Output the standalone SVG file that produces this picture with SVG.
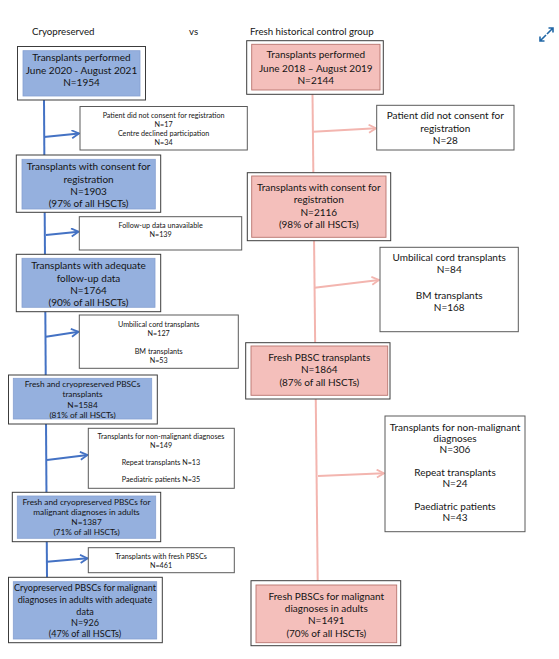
<svg xmlns="http://www.w3.org/2000/svg" width="559" height="659" viewBox="0 0 559 659">
<defs>
<style>
text{font-family:Lato,"Liberation Sans",sans-serif;fill:#141414;text-anchor:middle;dominant-baseline:central}
.hdr{font-size:9.7px;text-anchor:start}
.t10{font-size:10px}
.t9{font-size:9.1px}
.t8{font-size:8.3px}
.t7{font-size:7.2px}
.outer{fill:#fff;stroke:#3c3c3c;stroke-width:1}
.side{fill:#fff;stroke:#5a5a5a;stroke-width:1}
.blue{fill:#95B0DE;stroke:#86A1D2;stroke-width:0.8}
.pink{fill:#F4BFBB;stroke:#B8746F;stroke-width:0.9}
.bl{fill:none;stroke:#4472C4;stroke-width:2}
.pl{fill:none;stroke:#F3B5AF;stroke-width:2}
</style>
<marker id="ab" markerWidth="10" markerHeight="10" refX="8" refY="4.5" orient="auto" markerUnits="userSpaceOnUse"><path d="M0.8,0.5 L8,4.5 L0.8,8.5" fill="none" stroke="#4472C4" stroke-width="1.8"/></marker>
<marker id="ap" markerWidth="10" markerHeight="10" refX="8" refY="4.5" orient="auto" markerUnits="userSpaceOnUse"><path d="M0.8,0.5 L8,4.5 L0.8,8.5" fill="none" stroke="#F3B5AF" stroke-width="1.8"/></marker>
</defs>
<rect width="559" height="659" fill="#fff"/>

<g id="headers">
<text class="hdr" x="32" y="31">Cryopreserved</text>
<text class="hdr" x="189" y="31">vs</text>
<text class="hdr" x="250" y="31">Fresh historical control group</text>
<path d="M547,34 L553,28 M548.5,28 L553,28 L553,32.5 M546,35 L540,41 M540,36.5 L540,41 L544.5,41" fill="none" stroke="#2167A6" stroke-width="1.6"/>
</g>

<g id="connectors">
<path class="bl" d="M44,100 L47,578"/>
<path class="bl" d="M44,137 L79,133.5" marker-end="url(#ab)"/>
<path class="bl" d="M46,235 L78.5,231.7" marker-end="url(#ab)"/>
<path class="bl" d="M46,336.7 L78.5,331.7" marker-end="url(#ab)"/>
<path class="bl" d="M47,460 L87.5,455" marker-end="url(#ab)"/>
<path class="bl" d="M47,561.7 L87.5,558.3" marker-end="url(#ab)"/>
<path class="pl" d="M312.5,94 L317.7,581"/>
<path class="pl" d="M313,131.7 L376,128.3" marker-end="url(#ap)"/>
<path class="pl" d="M314.5,287.7 L379,280" marker-end="url(#ap)"/>
<path class="pl" d="M318,476 L384,473.3" marker-end="url(#ap)"/>
</g>

<g id="c1">
<rect class="outer" x="17.5" y="46.5" width="128" height="53.5"/>
<rect class="blue" x="23" y="50.7" width="117" height="45.3"/>
<text class="t10" x="81.5" y="57.3">Transplants performed</text>
<text class="t10" x="81.5" y="70">June 2020 - August 2021</text>
<text class="t10" x="81.5" y="82.3">N=1954</text>
</g>
<g id="cs1">
<rect class="side" x="80" y="106.5" width="167.3" height="43.5"/>
<text class="t7" x="163.6" y="115.3">Patient did not consent for registration</text>
<text class="t7" x="163.6" y="124.3">N=17</text>
<text class="t7" x="163.6" y="133.3">Centre declined participation</text>
<text class="t7" x="163.6" y="142.3">N=34</text>
</g>
<g id="c2">
<rect class="outer" x="16.3" y="155" width="144.4" height="57.3"/>
<rect class="blue" x="22" y="159.3" width="133.3" height="49.7"/>
<text class="t10" x="88.6" y="166">Transplants with consent for</text>
<text class="t10" x="88.6" y="178.7">registration</text>
<text class="t10" x="88.6" y="191.4">N=1903</text>
<text class="t10" x="88.6" y="203.3">(97% of all HSCTs)</text>
</g>
<g id="cs2">
<rect class="side" x="79.3" y="216.7" width="162.4" height="33.3"/>
<text class="t7" x="160.6" y="225.7">Follow-up data unavailable</text>
<text class="t7" x="160.6" y="234.3">N=139</text>
</g>
<g id="c3">
<rect class="outer" x="16.3" y="254.3" width="144.4" height="57.4"/>
<rect class="blue" x="22" y="258.3" width="133" height="49"/>
<text class="t10" x="88.5" y="265">Transplants with adequate</text>
<text class="t10" x="88.5" y="277.7">follow-up data</text>
<text class="t10" x="88.5" y="290">N=1764</text>
<text class="t10" x="88.5" y="302.3">(90% of all HSCTs)</text>
</g>
<g id="cs3">
<rect class="side" x="79.3" y="315" width="159" height="53.3"/>
<text class="t7" x="158.7" y="324">Umbilical cord transplants</text>
<text class="t7" x="158.7" y="333">N=127</text>
<text class="t7" x="158.7" y="351.7">BM transplants</text>
<text class="t7" x="158.7" y="360.3">N=53</text>
</g>
<g id="c4">
<rect class="outer" x="8.5" y="375" width="148.8" height="49"/>
<rect class="blue" x="13.3" y="378.3" width="138.4" height="40.7"/>
<text class="t8" x="82.5" y="384.2">Fresh and cryopreserved PBSCs</text>
<text class="t8" x="82.5" y="394.4">transplants</text>
<text class="t8" x="82.5" y="404.5">N=1584</text>
<text class="t8" x="82.5" y="415">(81% of all HSCTs)</text>
</g>
<g id="cs4">
<rect class="side" x="88.3" y="428.3" width="146" height="60"/>
<text class="t7" x="161" y="436.7">Transplants for non-malignant diagnoses</text>
<text class="t7" x="161" y="445.7">N=149</text>
<text class="t7" x="161" y="462.3">Repeat transplants N=13</text>
<text class="t7" x="161" y="479">Paediatric patients N=35</text>
</g>
<g id="c5">
<rect class="outer" x="12.3" y="492.3" width="148.4" height="49.4"/>
<rect class="blue" x="17.3" y="496" width="138.4" height="42.3"/>
<text class="t8" x="86.5" y="501.7">Fresh and cryopreserved PBSCs for</text>
<text class="t8" x="86.5" y="512.3">malignant diagnoses in adults</text>
<text class="t8" x="86.5" y="522.3">N=1387</text>
<text class="t8" x="86.5" y="532.3">(71% of all HSCTs)</text>
</g>
<g id="cs5">
<rect class="side" x="88.3" y="547.7" width="146" height="25"/>
<text class="t7" x="161" y="556.7">Transplants with fresh PBSCs</text>
<text class="t7" x="161" y="565.7">N=461</text>
</g>
<g id="c6">
<rect class="outer" x="8.5" y="577.3" width="153.8" height="65.4"/>
<rect class="blue" x="13.3" y="581.7" width="143.4" height="57.3"/>
<text class="t9" x="85" y="587.7">Cryopreserved PBSCs for malignant</text>
<text class="t9" x="85" y="599.3">diagnoses in adults with adequate</text>
<text class="t9" x="85" y="611">data</text>
<text class="t9" x="85" y="622.3">N=926</text>
<text class="t9" x="85" y="633.3">(47% of all HSCTs)</text>
</g>

<g id="f1">
<rect class="outer" x="246.7" y="40.7" width="136.6" height="53.6"/>
<rect class="pink" x="251.7" y="44.3" width="128.3" height="45.7"/>
<text class="t10" x="315.8" y="54.3">Transplants performed</text>
<text class="t10" x="315.8" y="67.7">June 2018 – August 2019</text>
<text class="t10" x="315.8" y="80">N=2144</text>
</g>
<g id="fs1">
<rect class="side" x="376.7" y="105.3" width="137.3" height="44.7"/>
<text class="t10" x="445.3" y="115.3">Patient did not consent for</text>
<text class="t10" x="445.3" y="127.7">registration</text>
<text class="t10" x="445.3" y="140">N=28</text>
</g>
<g id="f2">
<rect class="outer" x="247.3" y="172.7" width="143.4" height="68"/>
<rect class="pink" x="251.7" y="176" width="134.3" height="61.3"/>
<text class="t10" x="318.8" y="186.7">Transplants with consent for</text>
<text class="t10" x="318.8" y="199.3">registration</text>
<text class="t10" x="318.8" y="211.7">N=2116</text>
<text class="t10" x="318.8" y="224">(98% of all HSCTs)</text>
</g>
<g id="fs2">
<rect class="side" x="380" y="247.3" width="138.3" height="84.4"/>
<text class="t10" x="449.2" y="257.3">Umbilical cord transplants</text>
<text class="t10" x="449.2" y="269.3">N=84</text>
<text class="t10" x="449.2" y="295">BM transplants</text>
<text class="t10" x="449.2" y="306.7">N=168</text>
</g>
<g id="f3">
<rect class="outer" x="245.7" y="342.7" width="144.3" height="56.3"/>
<rect class="pink" x="251" y="346" width="136.7" height="49.3"/>
<text class="t10" x="319.3" y="356.7">Fresh PBSC transplants</text>
<text class="t10" x="319.3" y="369.3">N=1864</text>
<text class="t10" x="319.3" y="382.3">(87% of all HSCTs)</text>
</g>
<g id="fs3">
<rect class="side" x="385" y="416" width="140" height="115.7"/>
<text class="t10" x="455" y="426.7">Transplants for non-malignant</text>
<text class="t10" x="455" y="437.7">diagnoses</text>
<text class="t10" x="455" y="449">N=306</text>
<text class="t10" x="455" y="471.7">Repeat transplants</text>
<text class="t10" x="455" y="483.3">N=24</text>
<text class="t10" x="455" y="506">Paediatric patients</text>
<text class="t10" x="455" y="517.3">N=43</text>
</g>
<g id="f4">
<rect class="outer" x="251" y="580.7" width="149.7" height="65"/>
<rect class="pink" x="256" y="585" width="140.7" height="57.7"/>
<text class="t10" x="326.3" y="595.7">Fresh PBSCs for malignant</text>
<text class="t10" x="326.3" y="607.7">diagnoses in adults</text>
<text class="t10" x="326.3" y="620">N=1491</text>
<text class="t10" x="326.3" y="632.7">(70% of all HSCTs)</text>
</g>
</svg>
